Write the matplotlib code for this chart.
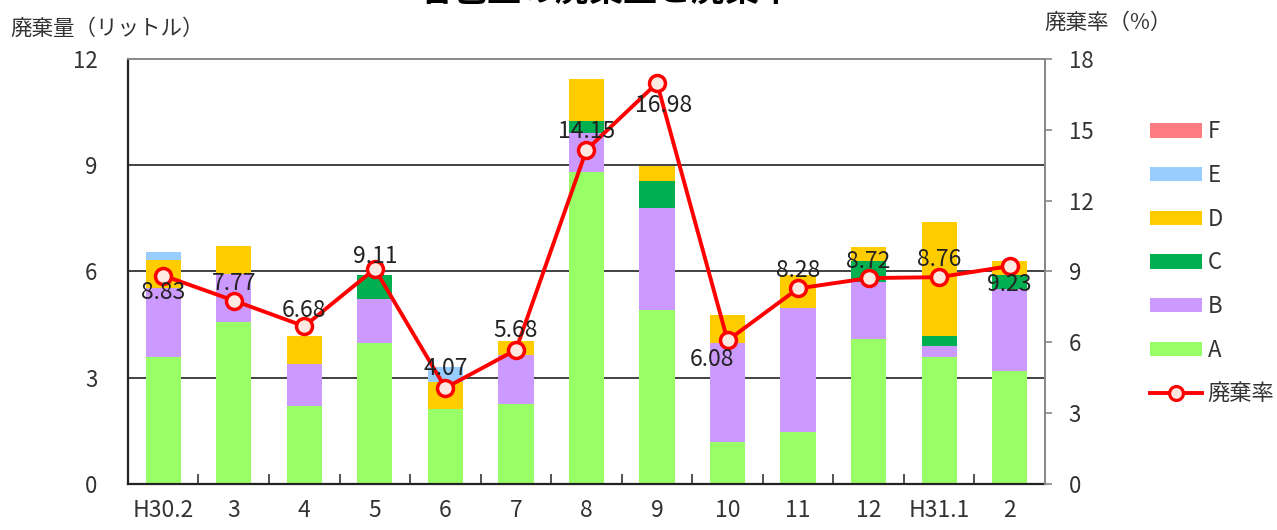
import matplotlib
matplotlib.use("Agg")
import matplotlib.pyplot as plt
import numpy as np
from matplotlib.patches import Patch
from matplotlib.lines import Line2D

plt.rcParams['font.family'] = ['Noto Sans CJK JP', 'DejaVu Sans']

categories = ["H30.2", "3", "4", "5", "6", "7", "8", "9", "10", "11", "12", "H31.1", "2"]
A = [3.58, 4.56, 2.20, 3.98, 2.11, 2.25, 8.80, 4.92, 1.18, 1.48, 4.09, 3.58, 3.18]
B = [1.96, 1.38, 1.19, 1.23, 0.00, 1.39, 1.12, 2.87, 2.80, 3.49, 1.60, 0.32, 2.33]
C = [0.00, 0.00, 0.00, 0.68, 0.00, 0.00, 0.34, 0.77, 0.00, 0.00, 0.60, 0.29, 0.38]
D = [0.79, 0.78, 0.80, 0.00, 0.78, 0.40, 1.18, 0.41, 0.80, 0.92, 0.40, 3.20, 0.40]
E = [0.22, 0.00, 0.00, 0.00, 0.40, 0.00, 0.00, 0.00, 0.00, 0.00, 0.00, 0.00, 0.00]
F = [0.00] * 13
rate = [8.83, 7.77, 6.68, 9.11, 4.07, 5.68, 14.15, 16.98, 6.08, 8.28, 8.72, 8.76, 9.23]

series = [("A", A, "#99FF66"), ("B", B, "#CC99FF"), ("C", C, "#00B050"),
          ("D", D, "#FFCC00"), ("E", E, "#99CCFF"), ("F", F, "#FF7C80")]

# label placement (points offset) per point
label_dx = [0, 0, 0, 0, 0, 0, 0, 5, -11, 0, 0, 0, 0]
label_dy = [-12, 12, 11, 9, 14, 14, 13, -16, -14, 13, 12, 13, -13]

fig = plt.figure(figsize=(12.77, 5.30), dpi=100)
ax = fig.add_axes([0.1002, 0.0868, 0.7181, 0.8019])
x = np.arange(len(categories))
bottom = np.zeros(len(categories))
for name, vals, col in series:
    v = np.array(vals)
    ax.bar(x, v, width=0.5, bottom=bottom, color=col, zorder=2, linewidth=0)
    bottom += v

ax.set_xlim(-0.5, len(categories) - 0.5)
ax.set_ylim(0, 12)
ax.set_yticks([0, 3, 6, 9, 12])
for g in [3, 6, 9]:
    ax.axhline(g, color="#333333", lw=1.3, zorder=1)
ax.set_xticks(x)
ax.set_xticklabels(categories)
ax.set_xticks(np.arange(0.5, len(categories) - 1, 1), minor=True)
ax.tick_params(axis='x', which='major', length=0, pad=11, labelsize=16.5, colors="#333333")
ax.tick_params(axis='x', which='minor', direction='in', length=7, width=1.2, color="#333333")
ax.tick_params(axis='y', length=0, pad=22, labelsize=16, labelcolor="#333333")
for s in ['left', 'bottom']:
    ax.spines[s].set_color("#222222")
    ax.spines[s].set_linewidth(1.6)
for s in ['top', 'right']:
    ax.spines[s].set_color("#888888")
    ax.spines[s].set_linewidth(1.4)

ax2 = ax.twinx()
ax2.set_ylim(0, 18)
ax2.set_yticks([0, 3, 6, 9, 12, 15, 18])
ax2.tick_params(axis='y', length=5, width=1.2, color="#888888", pad=12, labelsize=16, labelcolor="#333333")
for s in ['left', 'bottom', 'top']:
    ax2.spines[s].set_visible(False)
ax2.spines['right'].set_color("#888888")
ax2.spines['right'].set_linewidth(1.4)
ax2.plot(x, rate, color="#FF0000", lw=2.8, marker='o', markersize=11.5,
         markerfacecolor="#FDE9E1", markeredgecolor="#FF0000", markeredgewidth=2.5, zorder=5)
for i, r in enumerate(rate):
    ax2.annotate(f"{r:.2f}", (x[i], r), xytext=(label_dx[i], label_dy[i]),
                 textcoords='offset points', ha='center', va='center',
                 fontsize=16.5, color="#222222", zorder=6)

fig.text(0.008, 0.945, "廃棄量（リットル）", fontsize=15.5, color="#333333", ha='left', va='center')
fig.text(0.818, 0.957, "廃棄率（%）", fontsize=15.5, color="#333333", ha='left', va='center')
fig.text(0.475, 0.999, "各色量の廃棄量と廃棄率", fontsize=24.5, fontweight='bold', ha='center', va='baseline')

handles = [Patch(facecolor=c, edgecolor='none', label=n) for n, v, c in reversed(series)]
handles.append(Line2D([0], [0], color="#FF0000", lw=2.8, marker='o', markersize=10,
                      markerfacecolor="#FDE9E1", markeredgecolor="#FF0000", markeredgewidth=2.3, label="廃棄率"))
fig.legend(handles=handles, loc='upper left', bbox_to_anchor=(0.9005, 0.773), frameon=False,
           fontsize=16, handlelength=2.34, handleheight=0.6, labelspacing=0.93, handletextpad=0.25,
           borderpad=0, borderaxespad=0, labelcolor="#333333")

fig.savefig("out.png", dpi=100)
